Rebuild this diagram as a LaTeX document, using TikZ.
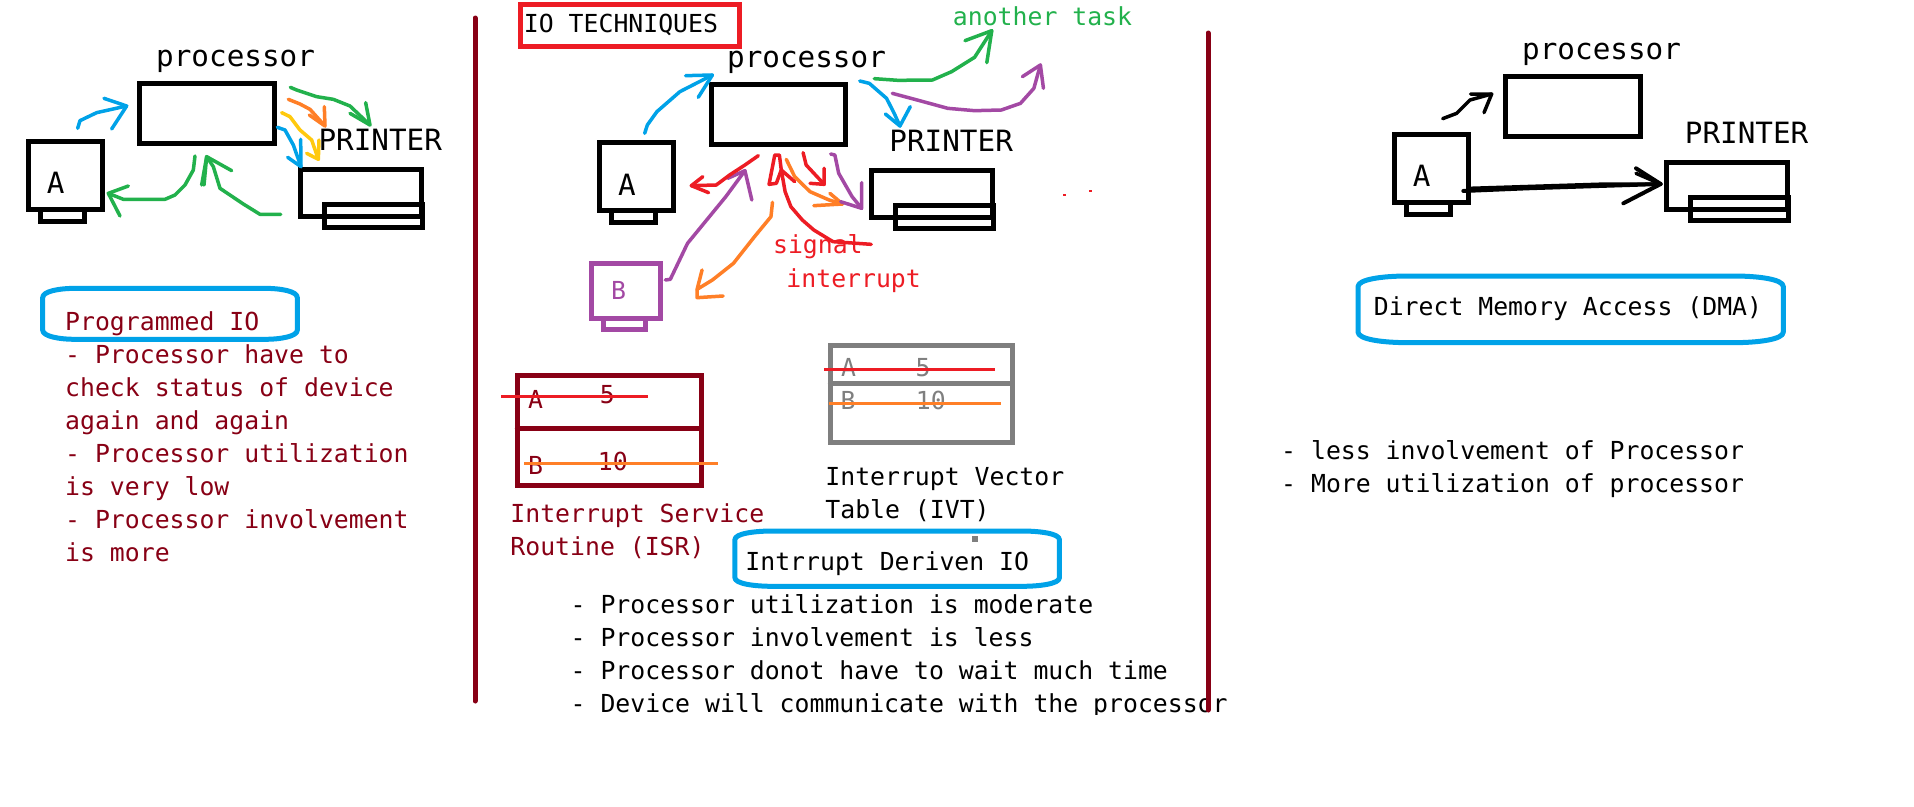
\documentclass[tikz,border=0pt]{standalone}
\usepackage{fontspec}
\setmainfont{DejaVu Sans Mono}
\definecolor{cblue}{HTML}{00A2E8}
\definecolor{cgreen}{HTML}{22B14C}
\definecolor{corange}{HTML}{FF7F27}
\definecolor{cyellow}{HTML}{FFC90E}
\definecolor{cred}{HTML}{ED1C24}
\definecolor{cpurple}{HTML}{A349A4}
\definecolor{cmaroon}{HTML}{880015}
\definecolor{cgray}{HTML}{7F7F7F}
\tikzset{
  hand/.style={line width=3.5pt,line join=round,line cap=round},
  boxk/.style={draw=black,line width=5pt,inner sep=0pt,outer sep=0pt,fill=none},
  boxm/.style={boxk,draw=cmaroon},
  boxg/.style={boxk,draw=cgray},
  boxp/.style={boxk,draw=cpurple},
  boxr/.style={boxk,draw=cred},
  big/.style={anchor=base west,inner sep=0pt,font=\fontsize{29.3}{32}\selectfont},
  bigc/.style={big,anchor=base},
  txt/.style={anchor=base west,inner sep=0pt,font=\fontsize{24.8}{28}\selectfont},
  txtc/.style={txt,anchor=base},
  oval/.style={draw=cblue,line width=5pt,line join=round},
  rule/.style={line width=3pt},
  sep/.style={draw=cmaroon,line width=5pt,line cap=round},
}
\newcommand\bx[6]{%
  \pgfmathsetmacro\rskw{(#4-#2)/\zf-5}%
  \pgfmathsetmacro\rskh{(#5-#3)/3-5}%
  \node[#6,minimum width=\rskw pt,minimum height=\rskh pt] (#1) at ({(#2+#4)/2},{(#3+#5)/2}) {};}
\newcommand\barrel[6]{%
  \draw[oval] ({#1},{#2+#6}) .. controls ({#1},{#2+#6*0.3}) and ({#1+#5*0.5},{#2}) .. ({#1+#5},{#2})
   -- ({#3-#5},{#2}) .. controls ({#3-#5*0.5},{#2}) and ({#3},{#2+#6*0.3}) .. ({#3},{#2+#6})
   -- ({#3},{#4-#6}) .. controls ({#3},{#4-#6*0.3}) and ({#3-#5*0.5},{#4}) .. ({#3-#5},{#4})
   -- ({#1+#5},{#4}) .. controls ({#1+#5*0.5},{#4}) and ({#1},{#4-#6*0.3}) .. ({#1},{#4-#6}) -- cycle;}
\begin{document}
\begin{tikzpicture}[x=1pt,y=-1pt]
\useasboundingbox (0,0) rectangle (1914,806);
\fill[white] (0,0) rectangle (1914,806);

% separators
\coordinate (sepAt) at (475,18); \coordinate (sepAb) at (475,701);
\coordinate (sepBt) at (1208,33); \coordinate (sepBb) at (1208,710);

% ---------- bottom texts of the middle panel (under the rule)
\begin{scope}
\clip (560,590) rectangle (1300,714.5);
\node[txt] (m1) at (570.5,613) {- Processor utilization is moderate};
\node[txt] (m2) at (570.5,646) {- Processor involvement is less};
\node[txt] (m3) at (570.5,679) {- Processor donot have to wait much time};
\node[txt] (m4) at (570.5,712) {- Device will communicate with the processor};
\end{scope}
\draw[sep] (sepAt) -- (sepAb);
\draw[sep] (sepBt) -- (sepBb);

% ---------- left panel
\begin{scope}[x=0.33333pt,y=-0.33333pt,shift={(0pt,-30pt)}]
\def\zf{3}
\bx{lproc}{411}{153}{831}{347}{boxk}
\bx{lA}{78}{327}{315}{545}{boxk}
\bx{lAf}{114}{531}{261}{581}{boxk}
\bx{lP}{894}{411}{1272}{566}{boxk}
\bx{lPf}{966}{516}{1275}{600}{boxk}
\node[big] (lproct) at (468,108) {processor};
\node[bigc] (lAt) at (167,490) {A};
\node[big] (lPt) at (955,362) {PRINTER};
\barrel{128}{775}{892}{928}{100}{28}
\coordinate (t1) at (380,228);
\draw[hand,cblue] (233,295) -- (240,272) -- (290,248) -- (t1);
\draw[hand,cblue] (312,205) -- (t1) -- (335,297);
\coordinate (t2) at (1110,285);
\draw[hand,cgreen] (871,172) -- (890,180) -- (950,200) -- (1000,208) -- (1050,228) -- (t2);
\draw[hand,cgreen] (1050,250) -- (t2) -- (1097,218);
\coordinate (t3) at (975,288);
\draw[hand,corange] (865,208) -- (900,222) -- (930,238) -- (t3);
\draw[hand,corange] (928,255) -- (t3) -- (973,230);
\coordinate (t4) at (955,388);
\draw[hand,cyellow] (845,248) -- (870,260) -- (900,300) -- (935,330) -- (t4);
\draw[hand,cyellow] (920,370) -- (t4) -- (957,330);
\coordinate (t5) at (903,410);
\draw[hand,cblue] (832,292) -- (855,300) -- (880,345) -- (t5);
\draw[hand,cblue] (863,382) -- (t5) -- (902,328);
\coordinate (t6) at (325,490);
\draw[hand,cgreen] (585,378) -- (580,420) -- (555,465) -- (525,495) -- (495,508) -- (370,508) -- (t6);
\draw[hand,cgreen] (385,468) -- (t6) -- (360,558);
\coordinate (t7) at (620,380);
\draw[hand,cgreen] (842,553) -- (780,553) -- (730,522) -- (660,475) -- (640,410) -- (t7);
\draw[hand,cgreen] (605,465) -- (t7) -- (695,422);
\draw[hand,cgreen] (612,465) -- (t7);
\end{scope}
\node[txt,text=cmaroon] (l0) at (65,330) {Programmed IO};
\node[txt,text=cmaroon] (l1) at (65,363) {- Processor have to};
\node[txt,text=cmaroon] (l2) at (65,396) {check status of device};
\node[txt,text=cmaroon] (l3) at (65,429) {again and again};
\node[txt,text=cmaroon] (l4) at (65,462) {- Processor utilization};
\node[txt,text=cmaroon] (l5) at (65,495) {is very low};
\node[txt,text=cmaroon] (l6) at (65,528) {- Processor involvement};
\node[txt,text=cmaroon] (l7) at (65,561) {is more};

% ---------- middle panel, upper part
\begin{scope}[x=0.3827pt,y=-0.33333pt,shift={(500pt,0pt)}]
\def\zf{2.613}
\bx{ttl}{47}{7}{632}{146}{boxr}
\node[txt] (ttlt) at (62,98) {IO TECHNIQUES};
\bx{mproc}{545}{247}{908}{440}{boxk}
\bx{mA}{253}{420}{460}{638}{boxk}
\bx{mAf}{285}{624}{413}{675}{boxk}
\bx{mP}{964}{505}{1293}{659}{boxk}
\bx{mPf}{1028}{610}{1296}{692}{boxk}
\bx{mB}{233}{783}{426}{963}{boxp}
\bx{mBf}{264}{949}{387}{996}{boxp}
\node[big] (mproct) at (593,203) {processor};
\node[bigc] (mAt) at (332,585) {A};
\node[txtc,text=cpurple] (mBt) at (310,898) {B};
\node[big] (mPt) at (1017,455) {PRINTER};
\node[txt,text=cgreen] (task) at (1183,77) {another task};
\node[txt,text=cred] (sig) at (713,762) {signal};
\node[txt,text=cred] (intr) at (748,862) {interrupt};
\coordinate (a1) at (555,225);
\draw[hand,cblue] (378,400) -- (385,375) -- (410,335) -- (470,275) -- (a1);
\draw[hand,cblue] (485,227) -- (a1) -- (518,292);
\coordinate (a2) at (1285,92);
\draw[hand,cgreen] (978,236) -- (1040,241) -- (1130,240) -- (1180,215) -- (1240,172) -- (a2);
\draw[hand,cgreen] (1215,122) -- (a2) -- (1272,188);
\coordinate (a3) at (1412,195);
\draw[hand,cpurple] (1025,280) -- (1090,300) -- (1170,325) -- (1240,332) -- (1310,330) -- (1360,310) -- (1395,265) -- (a3);
\draw[hand,cpurple] (1365,230) -- (a3) -- (1420,265);
\coordinate (a4) at (1045,378);
\draw[hand,cblue] (940,243) -- (965,250) -- (1010,295) -- (1030,340) -- (a4);
\draw[hand,cblue] (1007,342) -- (a4) -- (1072,320);
\coordinate (a5) at (640,512);
\draw[hand,cpurple] (432,840) -- (445,838) -- (465,790) -- (490,730) -- (540,660) -- (590,590) -- (a5);
\draw[hand,cpurple] (595,535) -- (a5) -- (658,600);
\coordinate (a6) at (500,557);
\draw[hand,cred] (675,467) -- (640,495) -- (600,525) -- (565,555) -- (a6);
\draw[hand,cred] (530,530) -- (a6) -- (545,578);
\coordinate (a7) at (515,868);
\draw[hand,corange] (712,607) -- (708,650) -- (665,710) -- (610,790) -- (555,840) -- (a7);
\draw[hand,corange] (528,810) -- (a7) -- (515,893) -- (583,888);
\coordinate (a8) at (735,510);
\draw[hand,cred] (970,733) -- (870,725) -- (820,690) -- (790,660) -- (760,620) -- (745,575) -- (a8);
\draw[hand,cred] (770,545) -- (a8) -- (730,465) -- (718,465) -- (703,553) -- (722,550) -- (a8);
\coordinate (a9) at (895,612);
\draw[hand,corange] (748,478) -- (770,530) -- (810,575) -- (860,600) -- (a9);
\draw[hand,corange] (820,617) -- (a9) -- (862,580);
\coordinate (a10) at (847,553);
\draw[hand,cred] (792,458) -- (800,495) -- (a10);
\draw[hand,cred] (810,550) -- (a10) -- (847,505);
\coordinate (a11) at (945,625);
\draw[hand,cpurple] (864,462) -- (875,465) -- (885,520) -- (920,590) -- (a11);
\draw[hand,cpurple] (890,605) -- (a11) -- (945,548);
\fill[cred] (1472,583) rectangle (1478,589);
\fill[cred] (1540,571) rectangle (1546,577);
\end{scope}

% ---------- middle panel, tables
\begin{scope}[x=0.3827pt,y=-0.33333pt,shift={(480pt,-330pt)}]
\def\zf{2.613}
\bx{isr}{91}{129}{585}{474}{boxm}
\bx{ivt}{909}{40}{1397}{344}{boxg}
\draw[line width=5pt,cmaroon,line cap=round] (isr.west |- 0,295) -- (isr.east |- 0,295);
\draw[line width=5pt,cgray,line cap=round] (ivt.west |- 0,160) -- (ivt.east |- 0,160);
\node[txtc,text=cmaroon] (isa) at (145,235) {A};
\node[txtc,text=cmaroon] (is5) at (333,220) {5};
\node[txtc,text=cmaroon] (isb) at (145,432) {B};
\node[txtc,text=cmaroon] (is10) at (347,422) {10};
\node[txtc,text=cgray] (iva) at (963,140) {A};
\node[txtc,text=cgray] (iv5) at (1158,140) {5};
\node[txtc,text=cgray] (ivb) at (962,238) {B};
\node[txtc,text=cgray] (iv10) at (1178,238) {10};
\coordinate (r1a) at (55,199); \coordinate (r1b) at (439,199);
\coordinate (r2a) at (115,400); \coordinate (r2b) at (622,400);
\coordinate (r3a) at (899,118); \coordinate (r3b) at (1346,118);
\coordinate (r4a) at (912,220); \coordinate (r4b) at (1362,220);
\draw[rule,cred] (r1a) -- (r1b);
\draw[rule,corange] (r2a) -- (r2b);
\draw[rule,cred] (r3a) -- (r3b);
\draw[rule,corange] (r4a) -- (r4b);
\node[txt,text=cmaroon] (isr1) at (79,577) {Interrupt Service};
\node[txt,text=cmaroon] (isr2) at (79,677) {Routine (ISR)};
\node[txt] (ivt1) at (902,466) {Interrupt Vector};
\node[txt] (ivt2) at (902,564) {Table (IVT)};
\barrel{666}{603}{1514}{769}{100}{26}
\node[txt] (intd) at (693,722) {Intrrupt Deriven IO};
\fill[cgray] (1285,619) rectangle (1301,635);
\end{scope}

% ---------- right panel
\begin{scope}[x=0.33333pt,y=-0.33333pt,shift={(1340pt,-20pt)}]
\def\zf{3}
\bx{rproc}{489}{163}{908}{356}{boxk}
\bx{rA}{157}{337}{392}{554}{boxk}
\bx{rAf}{192}{540}{338}{590}{boxk}
\bx{rP}{973}{421}{1350}{575}{boxk}
\bx{rPf}{1045}{525}{1353}{608}{boxk}
\node[big] (rproct) at (546,118) {processor};
\node[bigc] (rAt) at (245,500) {A};
\node[big] (rPt) at (1034,370) {PRINTER};
\barrel{54}{768}{1330}{968}{150}{32}
\node[txt] (dma) at (101,885) {Direct Memory Access (DMA)};
\coordinate (b1) at (455,222);
\draw[hand,black] (308,296) -- (350,280) -- (390,240) -- (b1);
\draw[hand,black] (392,222) -- (b1) -- (432,278);
\coordinate (b2) at (962,492);
\draw[hand,black,line width=4pt] (370,513) -- (560,505) -- (b2);
\draw[hand,black] (390,505) -- (800,492) -- (b2);
\draw[hand,black,line width=4pt] (888,445) -- (b2) -- (850,550);
\draw[hand,black] (888,460) -- (b2);
\end{scope}
\node[txt] (r1) at (1281,459) {- less involvement of Processor};
\node[txt] (r2) at (1281,492) {- More utilization of processor};
\end{tikzpicture}
\end{document}
